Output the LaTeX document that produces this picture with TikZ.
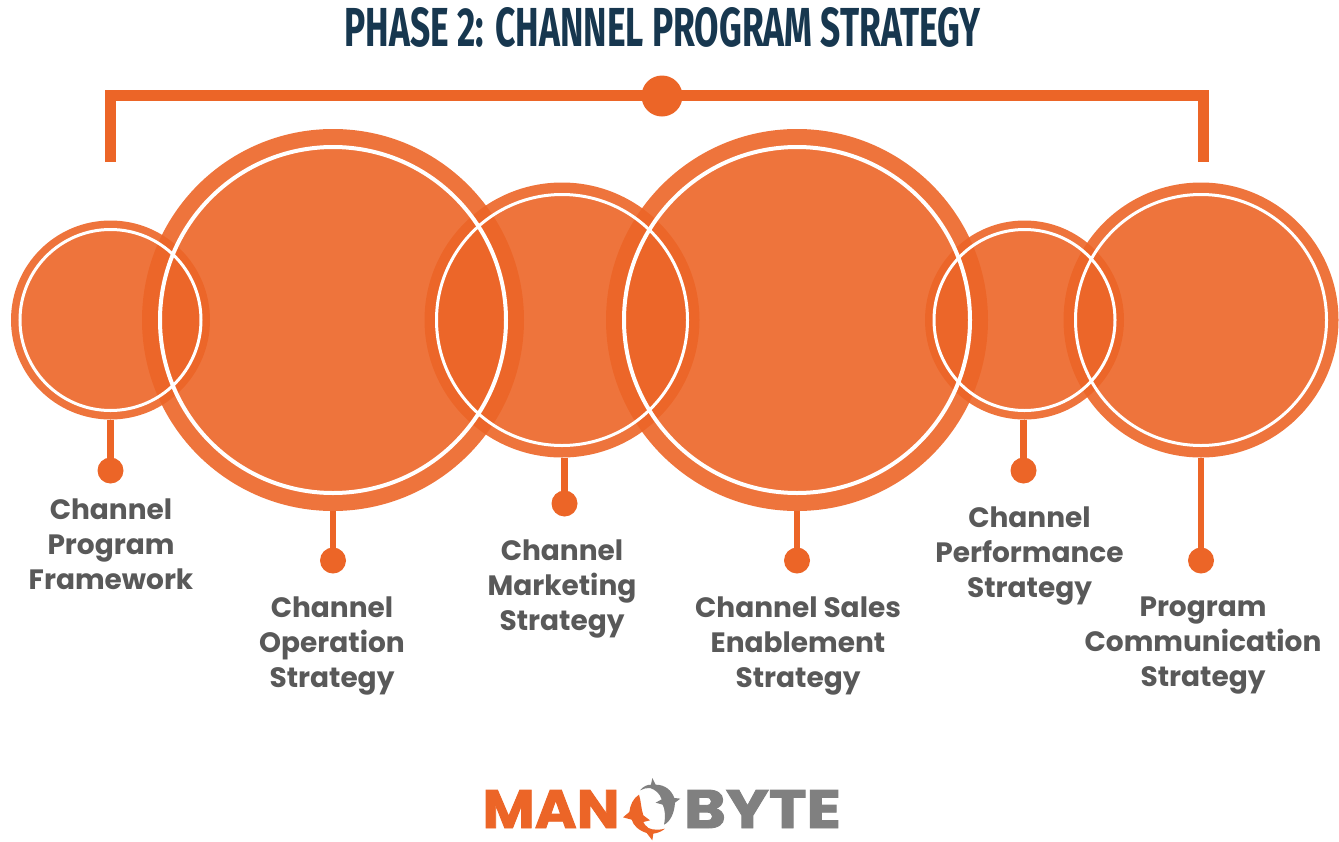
\documentclass[tikz,border=0pt]{standalone}
\usepackage{fontspec}
\usepackage{graphicx}
\setmainfont{Poppins}
\newfontfamily\titlefont{Fira Sans}
\newfontfamily\logofont[BoldFeatures={FakeBold=1.6}]{Poppins}
\definecolor{orng}{HTML}{EC6527}
\definecolor{navy}{HTML}{17374F}
\definecolor{labgray}{HTML}{595959}
\definecolor{logogray}{HTML}{808080}
\tikzset{
  outerdisc/.style={circle,fill=orng,fill opacity=0.9,inner sep=0pt,outer sep=0pt,minimum size=#1},
  whitering/.style={circle,draw=white,line width=3pt,inner sep=0pt,outer sep=0pt,minimum size=#1},
  bigring/.style={circle,draw=white,line width=4pt,inner sep=0pt,outer sep=0pt,minimum size=#1},
  enddot/.style={circle,fill=orng,inner sep=0pt,outer sep=0pt,minimum size=26pt},
  stem/.style={draw=orng,line width=6.5pt},
  bracketline/.style={draw=orng,line width=11pt},
  lab/.style={font=\fontsize{28}{35}\selectfont\bfseries,text=labgray,align=center,inner sep=0pt}
}
\begin{document}
\begin{tikzpicture}[x=1pt,y=-1pt]
\useasboundingbox (0,0) rectangle (1339,841);
% title
\node[inner sep=0pt,anchor=center,text=navy] (title) at (662.5,27) {\resizebox{636pt}{39pt}{\titlefont\bfseries PHASE 2: CHANNEL PROGRAM STRATEGY}};
% bracket
\coordinate (bl) at (110.5,162);
\coordinate (br) at (1203.5,162);
\coordinate (cl) at (110.5,95.5);
\coordinate (cr) at (1203.5,95.5);
\draw[bracketline,line join=miter] (bl) -- (cl) -- (cr) -- (br);
\node[circle,fill=orng,inner sep=0pt,minimum size=41pt] (top) at (662,96) {};
% discs
\node[outerdisc=199pt] (c1) at (110.5,320) {};
\node[outerdisc=382pt] (c2) at (333,320) {};
\node[outerdisc=275pt] (c3) at (562,320) {};
\node[outerdisc=382pt] (c4) at (797,320) {};
\node[outerdisc=199pt] (c5) at (1024.5,320) {};
\node[outerdisc=275pt] (c6) at (1201,320) {};
% rings
\node[whitering=181pt] (r1) at (c1) {};
\node[bigring=346pt] (r2) at (c2) {};
\node[whitering=251pt] (r3) at (c3) {};
\node[bigring=346pt] (r4) at (c4) {};
\node[whitering=181pt] (r5) at (c5) {};
\node[whitering=251pt] (r6) at (c6) {};
% dots
\node[enddot] (d1) at (110.5,470.5) {};
\node[enddot] (d2) at (333,560.5) {};
\node[enddot] (d3) at (564.5,503.5) {};
\node[enddot] (d4) at (797,560.5) {};
\node[enddot] (d5) at (1023.5,470.5) {};
\node[enddot] (d6) at (1201,560.5) {};
\draw[stem] (c1.south -| d1) -- (d1);
\draw[stem] (c2.south -| d2) -- (d2);
\draw[stem] (c3.south -| d3) -- (d3);
\draw[stem] (c4.south -| d4) -- (d4);
\draw[stem] (c5.south -| d5) -- (d5);
\draw[stem] (c6.south -| d6) -- (d6);
% labels
\node[lab] (l1) at (111,544) {Channel\\Program\\Framework};
\node[lab] (l2) at (332,646) {Channel\\Operation\\Strategy};
\node[lab] (l3) at (562,589) {Channel\\Marketing\\Strategy};
\node[lab] (l4) at (798,646) {Channel Sales\\Enablement\\Strategy};
\node[lab] (l5) at (1029.5,556) {Channel\\Performance\\Strategy};
\node[lab] (l6) at (1203,646) {Program\\Communication\\Strategy};
% logo
\node[inner sep=0pt,text=orng] (man) at (551,809) {\resizebox{137pt}{38pt}{\logofont\bfseries MAN}};
\node[inner sep=0pt,text=logogray] (byte) at (762.5,809) {\resizebox{157pt}{38pt}{\logofont\bfseries BYTE}};
\begin{scope}[shift={(615,772)},x=0.3333pt,y=-0.3333pt]
\fill[logogray] (75,55) .. controls (85,42) and (98,38) .. (108,38) -- (112,18) -- (122,38)
  .. controls (150,38) and (170,55) .. (178,78) -- (196,80) -- (180,92)
  .. controls (178,125) and (165,150) .. (147,158)
  .. controls (152,135) and (150,110) .. (143,98) -- (122,92) -- (140,82)
  .. controls (135,65) and (120,52) .. (105,48)
  .. controls (95,47) and (85,50) .. (75,55) -- cycle;
\fill[orng] (72,68) .. controls (55,78) and (45,100) .. (43,120) -- (24,136) -- (50,143)
  .. controls (55,160) and (70,175) .. (95,183) -- (112,205) -- (115,185)
  .. controls (130,183) and (142,177) .. (150,170)
  .. controls (135,174) and (115,175) .. (100,168)
  .. controls (92,162) and (87,155) .. (85,150) -- (105,145) -- (85,130)
  .. controls (78,110) and (78,85) .. (72,68) -- cycle;
\end{scope}
\end{tikzpicture}
\end{document}
